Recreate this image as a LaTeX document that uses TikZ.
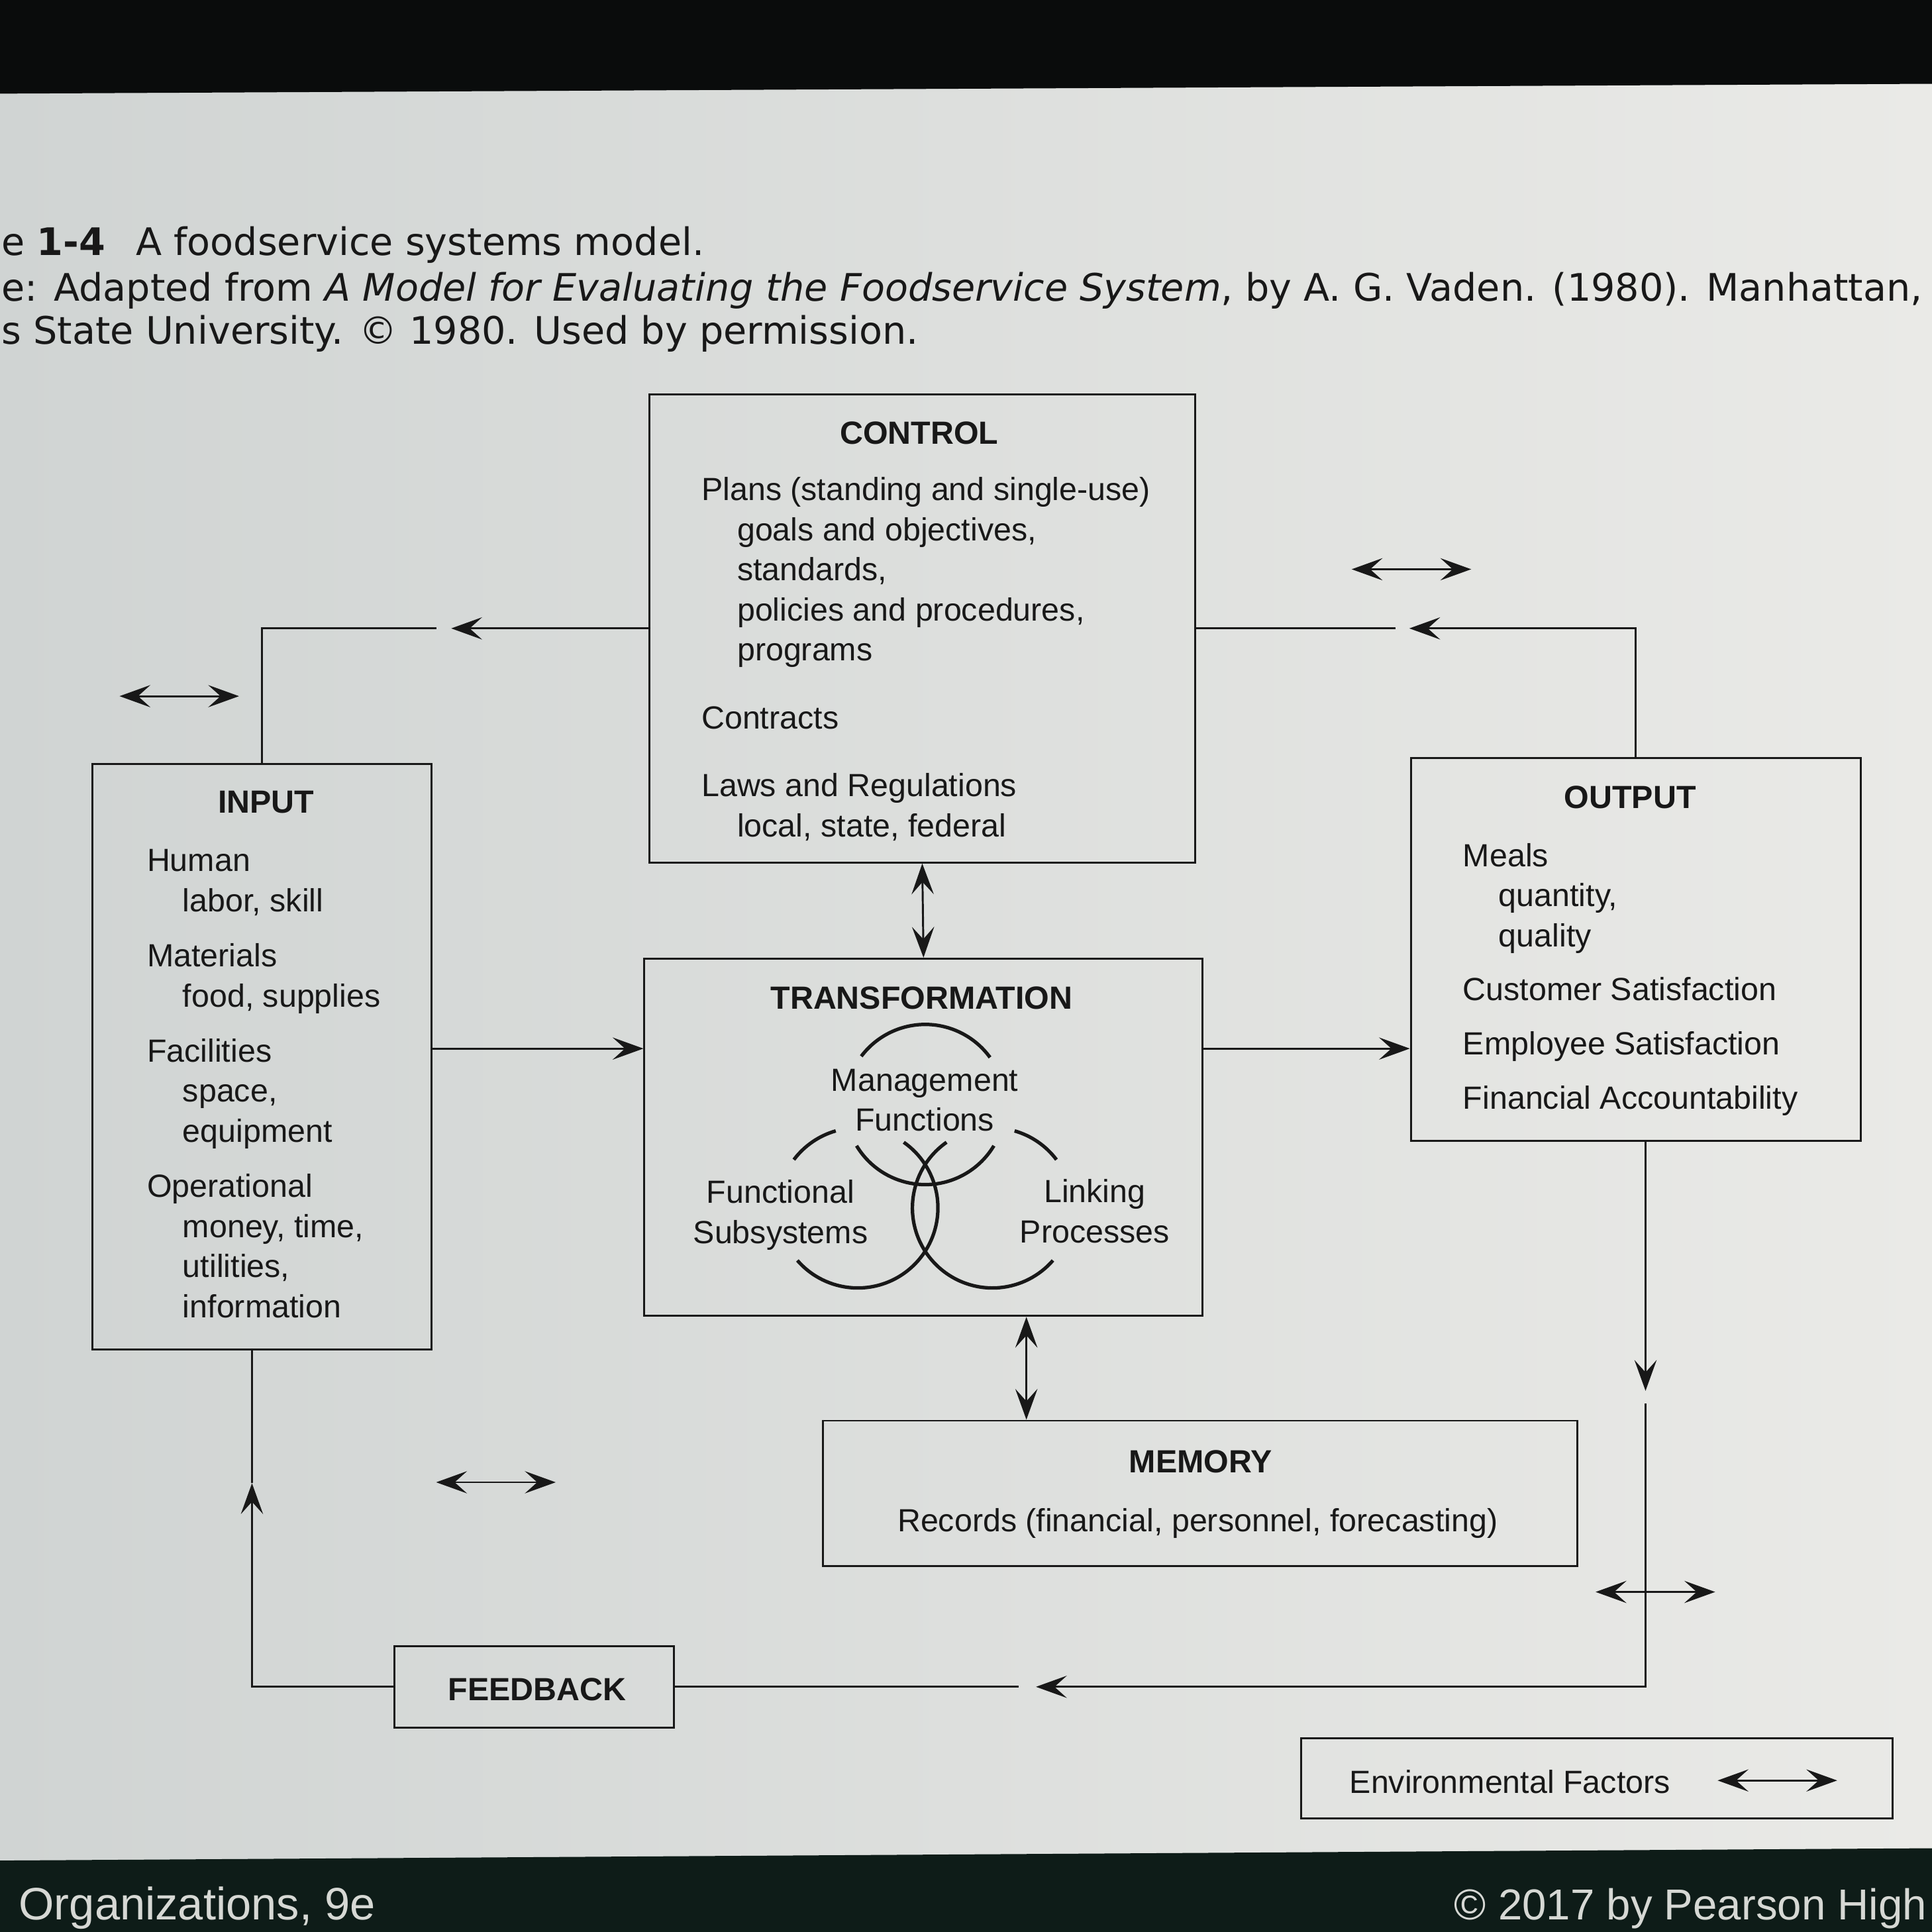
\documentclass[tikz,border=0pt]{standalone}
\usepackage{fontspec}
\setmainfont{Liberation Sans}
\newfontfamily\capfont{DejaVu Sans}
\usetikzlibrary{arrows.meta,calc,fit}
\definecolor{ink}{RGB}{24,24,24}
\definecolor{scrL}{RGB}{208,212,211}
\definecolor{scrR}{RGB}{234,234,231}
\definecolor{bezel}{RGB}{10,12,12}
\definecolor{bezelB}{RGB}{14,28,24}
\definecolor{foot}{RGB}{214,216,212}
\newcommand{\dgm}{\fontsize{14.8pt}{18.5pt}\selectfont}
\newcommand{\subind}{\hspace*{16.5pt}}
\tikzset{
  box/.style={draw=ink,line width=0.9pt,inner sep=0pt},
  head/.style={font=\dgm\bfseries,text=ink,inner sep=0pt},
  body/.style={font=\dgm,text=ink,align=left,inner sep=0pt,anchor=north west},
  ring label/.style={font=\dgm,text=ink,align=center,inner sep=0pt},
  hdr/.style={font=\capfont\fontsize{17.5pt}{21pt}\selectfont,text=ink,inner sep=0pt,anchor=base west},
  foot/.style={text=foot,inner sep=0pt,anchor=base west},
  ln/.style={draw=ink,line width=0.9pt},
  ar/.style={ln,-{Stealth[length=5mm,width=3.6mm,inset=2mm]}},
  dar/.style={ln,{Stealth[length=5mm,width=3.6mm,inset=2mm]}-{Stealth[length=5mm,width=3.6mm,inset=2mm]}},
  ring/.style={draw=ink,line width=1.6pt},
}
\newcommand{\envar}[1]{\draw[dar] (#1) -- ++(97,0);}

\begin{document}
\begin{tikzpicture}[x=0.2mm,y=-0.2mm]
  \useasboundingbox (0,0) rectangle (1568,1568);
  % screen and bezel
  \shade[left color=scrL,right color=scrR] (0,0) rectangle (1568,1568);
  \fill[bezel] (0,0) -- (1568,0) -- (1568,68) -- (0,76) -- cycle;
  \fill[bezelB] (0,1510) -- (1568,1500) -- (1568,1568) -- (0,1568) -- cycle;

  % caption
  \node[hdr] (figno) at (1,207) {e \textbf{1-4}};
  \node[hdr] (figtitle) at (110,207) {A foodservice systems model.};
  \node[hdr] (src1) at (1,244.5) {e: Adapted from \textit{A Model for Evaluating the Foodservice System}, by A. G. Vaden. (1980). Manhattan,};
  \node[hdr] (src2) at (1,279) {s State University. © 1980. Used by permission.};

  % boxes
  \node[box,fit={(527,320) (970,700)}] (control) {};
  \node[box,fit={(75,620) (350,1095)}] (input) {};
  \node[box,fit={(1145,615) (1510,926)}] (output) {};
  \node[box,fit={(523,778) (976,1068)}] (transf) {};
  \node[box,fit={(668,1153) (1280,1271)}] (memory) {};
  \node[box,fit={(320,1336) (547,1402)}] (feedback) {};
  \node[box,fit={(1056,1411) (1536,1476)}] (legend) {};

  % control
  \node[head] (controlT) at (746,351.5) {CONTROL};
  \node[body] (controlB) at (569,387) {Plans (standing and single-use)\\ \subind goals and objectives,\\ \subind standards,\\ \subind policies and procedures,\\ \subind programs\\[12.9pt] Contracts\\[12.9pt] Laws and Regulations\\ \subind local, state, federal};

  % input
  \node[head] (inputT) at (216,651) {INPUT};
  \node[body] (inputB) at (119,689) {Human\\ \subind labor, skill\\[7pt] Materials\\ \subind food, supplies\\[7pt] Facilities\\ \subind space,\\ \subind equipment\\[7pt] Operational\\ \subind money, time,\\ \subind utilities,\\ \subind information};

  % output
  \node[head] (outputT) at (1323,647) {OUTPUT};
  \node[body] (outputB) at (1187,684) {Meals\\ \subind quantity,\\ \subind quality\\[6.5pt] Customer Satisfaction\\[6.5pt] Employee Satisfaction\\[6.5pt] Financial Accountability};

  % transformation
  \node[head] (transfT) at (748,810) {TRANSFORMATION};
  \node[ring label] (mgmt) at (750.5,893) {Management\\Functions};
  \node[ring label] (func) at (633.5,986) {Functional\\Subsystems};
  \node[ring label] (link) at (888.5,983) {Linking\\Processes};
  \coordinate (cM) at (750.9,896.4);
  \coordinate (cL) at (696.2,980.3);
  \coordinate (cR) at (805.5,980.3);
  \foreach \c/\a/\b in {cM/36/143, cM/211/329, cL/106/143, cL/-139/55, cR/37/74, cR/125/319}
    \draw[ring] (\c) ++(\a:13mm) arc[start angle=\a,end angle=\b,radius=13mm];

  % memory, feedback, legend
  \node[head] (memoryT) at (974.5,1186) {MEMORY};
  \node[font=\dgm,text=ink,inner sep=0pt] (memoryB) at (972,1236.5) {Records (financial, personnel, forecasting)};
  \node[head] (feedbackT) at (436,1371) {FEEDBACK};
  \node[font=\dgm,text=ink,inner sep=0pt,anchor=west] (legendT) at (1095,1446) {Environmental Factors};

  % flows
  \coordinate (midrow) at (0,851);
  \coordinate (memcol) at (833,0);
  \draw[ar] (input.east |- midrow) -- (transf.west |- midrow);
  \draw[ar] (transf.east |- midrow) -- (output.west |- midrow);
  \draw[dar] (control.south) -- (transf.north);
  \draw[dar] (transf.south -| memcol) -- (memory.north -| memcol);

  % control loops
  \draw[ar] (control.west) -- ++(-160,0) coordinate (tipCL);
  \draw[ln] ($(tipCL)+(-12,0)$) -| (input.north);
  \draw[ar] (output.north) |- ($(control.east)+(173,0)$);
  \draw[ln] ($(control.east)+(162,0)$) -- (control.east);

  % feedback loop
  \draw[ar] ($(output.south)+(8,0)$) -- ++(0,202);
  \draw[ar] ($(output.south)+(8,212)$) |- ($(feedback.east)+(293,0)$);
  \draw[ln] ($(feedback.east)+(279,0)$) -- (feedback.east);
  \draw[ar] (feedback.west) -| ($(input.south)+(-8,108)$);
  \draw[ln] ($(input.south)+(-8,108)$) -- ($(input.south)+(-8,0)$);

  % environmental factors
  \envar{97,565}
  \envar{1097,462}
  \envar{354,1203}
  \envar{1295,1292}
  \envar{1394,1445}

  % footer
  \node[foot,font=\fontsize{21pt}{25pt}\selectfont] (book) at (15,1558) {Organizations, 9e};
  \node[foot,font=\fontsize{20pt}{24pt}\selectfont] (pub) at (1180,1558) {© 2017 by Pearson High};
\end{tikzpicture}
\end{document}
